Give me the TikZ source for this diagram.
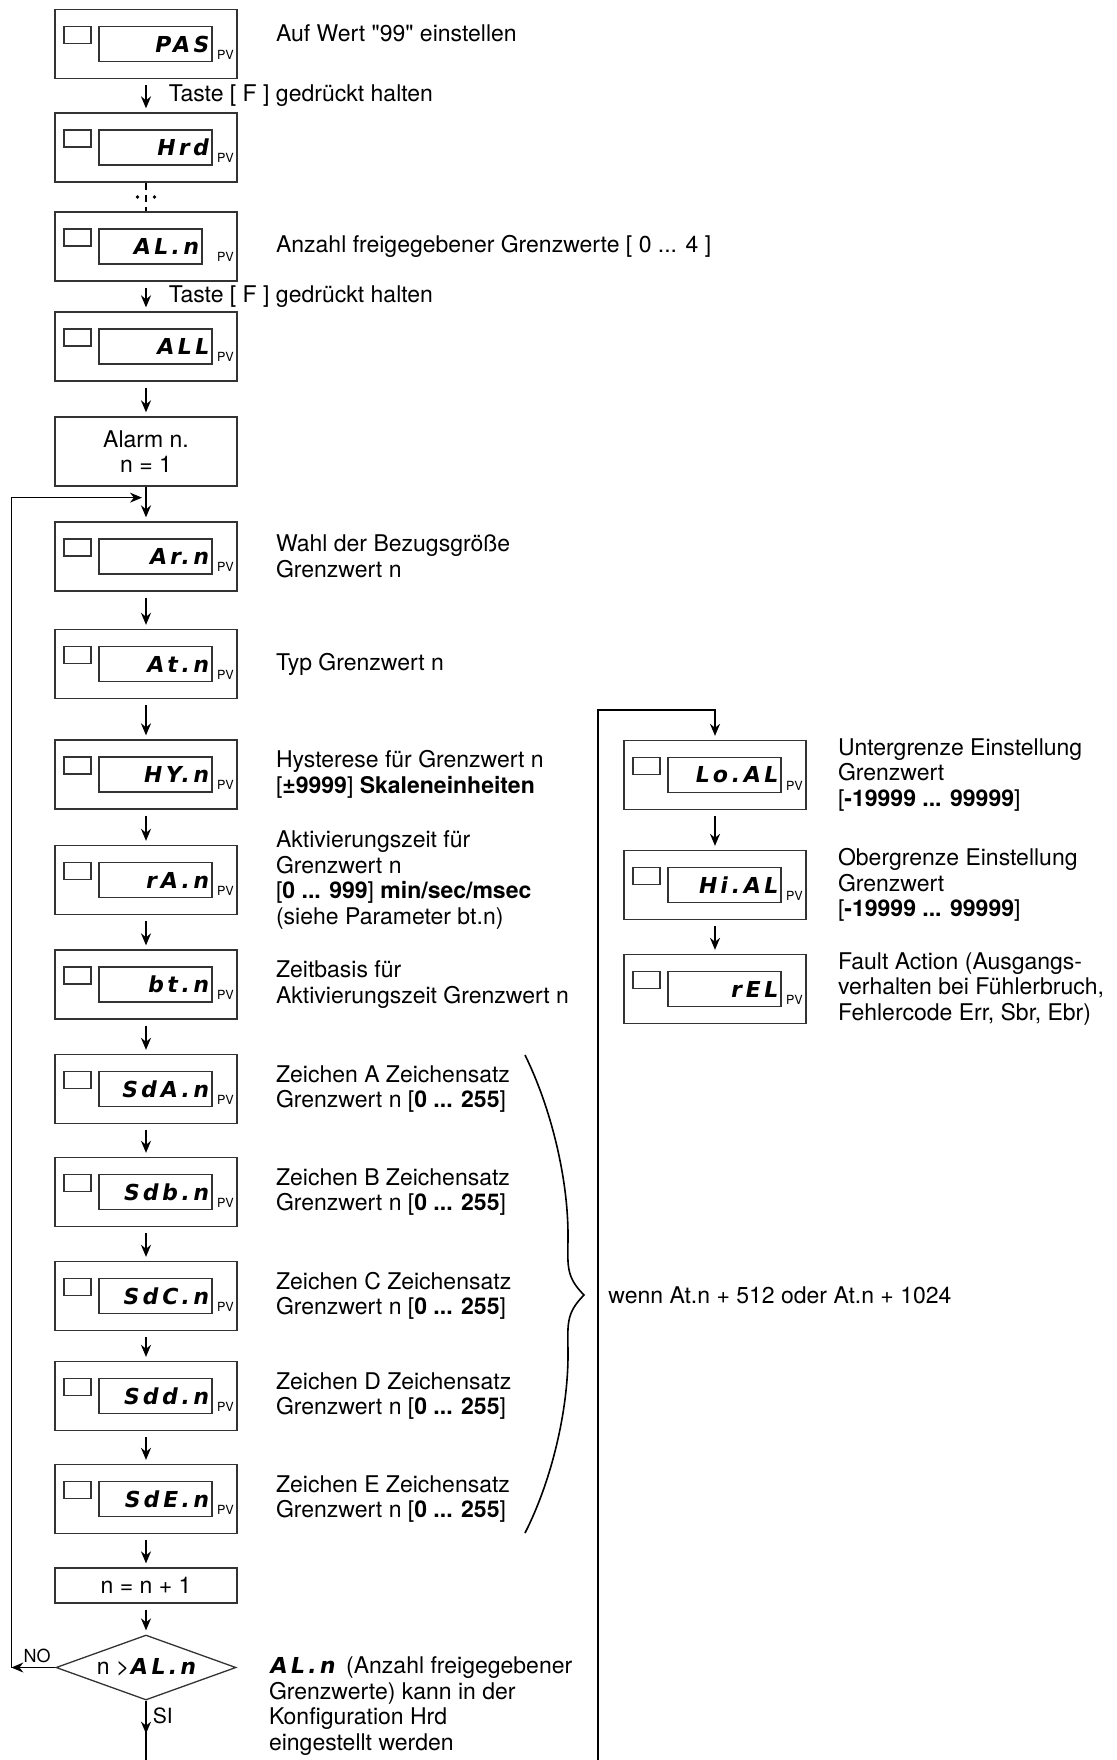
\documentclass[tikz,border=0pt]{standalone}
\usepackage{fontspec}
\setmainfont{TeX Gyre Heros}
\newfontfamily\segfont[LetterSpace=16,FakeSlant=0.18]{DejaVu Sans Bold}
\usetikzlibrary{positioning,shapes.geometric,arrows.meta}

% seven segment text
\newcommand{\segtxt}[1]{{\segfont\fontsize{11pt}{12pt}\selectfont #1}}
% lamp, display and PV tag inside a panel node
\newcommand{\segpanel}[3][]{%
    \node [lamp] (#2-lamp) at ([xshift=-34.25pt,yshift=4.5pt]#2.center) {};
    \node [disp, #1] (#2-disp) at ([xshift=4.75pt]#2.center) {#3};
    \node [pvtag] (#2-pv) at ([xshift=-10.5pt,yshift=10pt]#2.south east) {PV};
}

\begin{document}
\begin{tikzpicture}[x=0.5pt, y=-0.5pt, font=\fontsize{11.5pt}{12.8pt}\selectfont]
    \tikzstyle{panel} = [rectangle, draw=black!80, line width=0.65pt, minimum width=91pt, minimum height=34.5pt, inner sep=0pt]
    \tikzstyle{lamp} = [rectangle, draw=black!80, line width=0.55pt, minimum width=13.5pt, minimum height=8.5pt, inner sep=0pt]
    \tikzstyle{disp} = [rectangle, draw=black!80, line width=0.65pt, text width=52.5pt, inner xsep=2pt, inner ysep=0pt, minimum height=17.5pt, align=right, font=\segfont\fontsize{11pt}{12pt}\selectfont]
    \tikzstyle{pvtag} = [anchor=base west, inner sep=0pt, font=\fontsize{6.3pt}{7pt}\selectfont]
    \tikzstyle{stepbox} = [rectangle, draw=black!80, line width=0.65pt, minimum width=91pt, minimum height=34.5pt, align=center, inner sep=0pt]
    \tikzstyle{decision} = [diamond, draw=black!80, line width=0.65pt, minimum width=90pt, minimum height=32.5pt, aspect=2.8, inner sep=0pt]
    \tikzstyle{note} = [align=left, inner sep=0pt]
    \tikzstyle{hint} = [midway, anchor=west, xshift=11pt, inner sep=0pt]
    \tikzstyle{arrow} = [thick,->,>={Stealth[length=6pt,width=5pt]}, shorten <=3pt, shorten >=2pt]

    \useasboundingbox (0,0) rectangle (1117,1760);

    % Access to the alarm group
    \node [panel] (pas) at (146,44) {};
    \segpanel{pas}{PAS}
    \node [panel, below of=pas, node distance=51.75pt] (hrd) {};
    \segpanel{hrd}{Hrd}
    \node [panel, below of=hrd, node distance=49.5pt] (aln) {};
    \segpanel[text width=47.5pt, xshift=-2.5pt]{aln}{AL.n}
    \node [panel, below of=aln, node distance=50pt] (all) {};
    \segpanel{all}{ALL}
    \node [stepbox, below of=all, node distance=52.5pt] (alarm) {Alarm n.\\n = 1};

    % Parameters of alarm n
    \node [panel, below of=alarm, node distance=52.5pt] (arn) {};
    \segpanel{arn}{Ar.n}
    \node [panel, below of=arn, node distance=53.75pt] (atn) {};
    \segpanel{atn}{At.n}
    \node [panel, below of=atn, node distance=55.25pt] (hyn) {};
    \segpanel{hyn}{HY.n}
    \node [panel, below of=hyn, node distance=52.75pt] (ran) {};
    \segpanel{ran}{rA.n}
    \node [panel, below of=ran, node distance=52.25pt] (btn) {};
    \segpanel{btn}{bt.n}
    \node [panel, below of=btn, node distance=52.25pt] (sda) {};
    \segpanel{sda}{SdA.n}
    \node [panel, below of=sda, node distance=51.5pt] (sdb) {};
    \segpanel{sdb}{Sdb.n}
    \node [panel, below of=sdb, node distance=52pt] (sdc) {};
    \segpanel{sdc}{SdC.n}
    \node [panel, below of=sdc, node distance=50pt] (sdd) {};
    \segpanel{sdd}{Sdd.n}
    \node [panel, below of=sdd, node distance=51.5pt] (sde) {};
    \segpanel{sde}{SdE.n}
    \node [stepbox, minimum height=17.5pt, below of=sde, node distance=43.25pt] (nplus) {n = n + 1};
    \node [decision, below of=nplus, node distance=41pt] (dia) {n >\segtxt{AL.n}};

    % Limits and fault action
    \node [panel] (loal) at (715,775) {};
    \segpanel{loal}{Lo.AL}
    \node [panel, below of=loal, node distance=55pt] (hial) {};
    \segpanel{hial}{Hi.AL}
    \node [panel, below of=hial, node distance=52pt] (rel) {};
    \segpanel{rel}{rEL}

    % Notes
    \node [note, right=19pt of pas, yshift=5.5pt] (pas-note) {Auf Wert \textquotedbl 99\textquotedbl\ einstellen};
    \node [note, right=19pt of aln] (aln-note) {Anzahl freigegebener Grenzwerte [ 0 ... 4 ]};
    \node [note, right=19pt of arn] (arn-note) {Wahl der Bezugsgröße\\Grenzwert n};
    \node [note, right=19pt of atn] (atn-note) {Typ Grenzwert n};
    \node [note, right=19pt of hyn] (hyn-note) {Hysterese für Grenzwert n\\{}[\textbf{±9999}] \textbf{Skaleneinheiten}};
    \node [note, right=19pt of ran] (ran-note) {Aktivierungszeit für\\Grenzwert n\\{}[\textbf{0 ... 999}] \textbf{min/sec/msec}\\(siehe Parameter bt.n)};
    \node [note, right=19pt of btn] (btn-note) {Zeitbasis für\\Aktivierungszeit Grenzwert n};
    \node [note, right=19pt of sda] (sda-note) {Zeichen A Zeichensatz\\Grenzwert n [\textbf{0 ... 255}]};
    \node [note, right=19pt of sdb] (sdb-note) {Zeichen B Zeichensatz\\Grenzwert n [\textbf{0 ... 255}]};
    \node [note, right=19pt of sdc] (sdc-note) {Zeichen C Zeichensatz\\Grenzwert n [\textbf{0 ... 255}]};
    \node [note, right=19pt of sdd] (sdd-note) {Zeichen D Zeichensatz\\Grenzwert n [\textbf{0 ... 255}]};
    \node [note, right=19pt of sde] (sde-note) {Zeichen E Zeichensatz\\Grenzwert n [\textbf{0 ... 255}]};
    \node [note, right=16pt of dia, yshift=-19.2pt] (dia-note) {\segtxt{AL.n}\enspace(Anzahl freigegebener\\Grenzwerte) kann in der\\Konfiguration Hrd\\eingestellt werden};
    \node [note, right=15.5pt of loal] (loal-note) {Untergrenze Einstellung\\Grenzwert\\{}[\textbf{-19999 ... 99999}]};
    \node [note, right=15.5pt of hial] (hial-note) {Obergrenze Einstellung\\Grenzwert\\{}[\textbf{-19999 ... 99999}]};
    \node [note, right=15.5pt of rel] (rel-note) {Fault Action (Ausgangs-\\verhalten bei Fühlerbruch,\\Fehlercode Err, Sbr, Ebr)};
    \node [note, anchor=west] (cond) at (608,1295) {wenn At.n + 512 oder At.n + 1024};

    % Brace over the character set parameters
    \draw [line width=0.8pt] (525,1055) .. controls (552,1110) and (568,1180) .. (568,1235)
        .. controls (568,1265) and (565,1276) .. (584,1295)
        .. controls (565,1314) and (568,1325) .. (568,1355)
        .. controls (568,1410) and (552,1480) .. (525,1533);

    % Flow
    \coordinate (loopin) at ([yshift=-5.5pt]alarm.south);
    \coordinate (loopcorner) at ([xshift=-22pt]dia.west);
    \coordinate (sibot) at ([yshift=-30pt]dia.south);
    \coordinate (rbot) at (598,1760);
    \coordinate (rtop) at ([yshift=15pt]loal.north);

    \draw [arrow] (pas) -- node [hint] {Taste [ F ] gedrückt halten} (hrd);
    \draw [line width=0.9pt, dash pattern=on 3.5pt off 2.5pt] (hrd) -- coordinate [midway] (skip) (aln);
    \fill ([xshift=-4.25pt]skip) circle (0.9pt);
    \fill ([xshift=4.25pt]skip) circle (0.9pt);
    \draw [arrow] (aln) -- node [hint] {Taste [ F ] gedrückt halten} (all);
    \draw [arrow] (all) -- (alarm);
    \draw [arrow, shorten <=0pt] (alarm) -- (arn);
    \draw [arrow] (arn) -- (atn);
    \draw [arrow] (atn) -- (hyn);
    \draw [arrow] (hyn) -- (ran);
    \draw [arrow] (ran) -- (btn);
    \draw [arrow] (btn) -- (sda);
    \draw [arrow] (sda) -- (sdb);
    \draw [arrow] (sdb) -- (sdc);
    \draw [arrow] (sdc) -- (sdd);
    \draw [arrow] (sdd) -- (sde);
    \draw [arrow] (sde) -- (nplus);
    \draw [arrow] (nplus) -- (dia);

    \draw [arrow, shorten <=0pt, shorten >=0pt] (dia.west) -- node [pos=0, anchor=south east, inner sep=2pt, font=\fontsize{9pt}{10pt}\selectfont] {NO} (loopcorner);
    \draw [arrow, shorten <=0pt, shorten >=0pt] (loopcorner) |- ([xshift=-2pt]loopin);
    \draw [thick] (dia.south) -- (sibot);
    \draw [arrow, shorten <=0pt, shorten >=0pt] (dia.south) -- node [pos=0.45, anchor=west, inner sep=3pt, font=\fontsize{10.5pt}{11pt}\selectfont] {SI} ([yshift=-16.5pt]dia.south);

    \draw [arrow, shorten <=0pt] (rbot) |- (rtop) -- (loal);
    \draw [arrow] (loal) -- (hial);
    \draw [arrow] (hial) -- (rel);
\end{tikzpicture}
\end{document}
